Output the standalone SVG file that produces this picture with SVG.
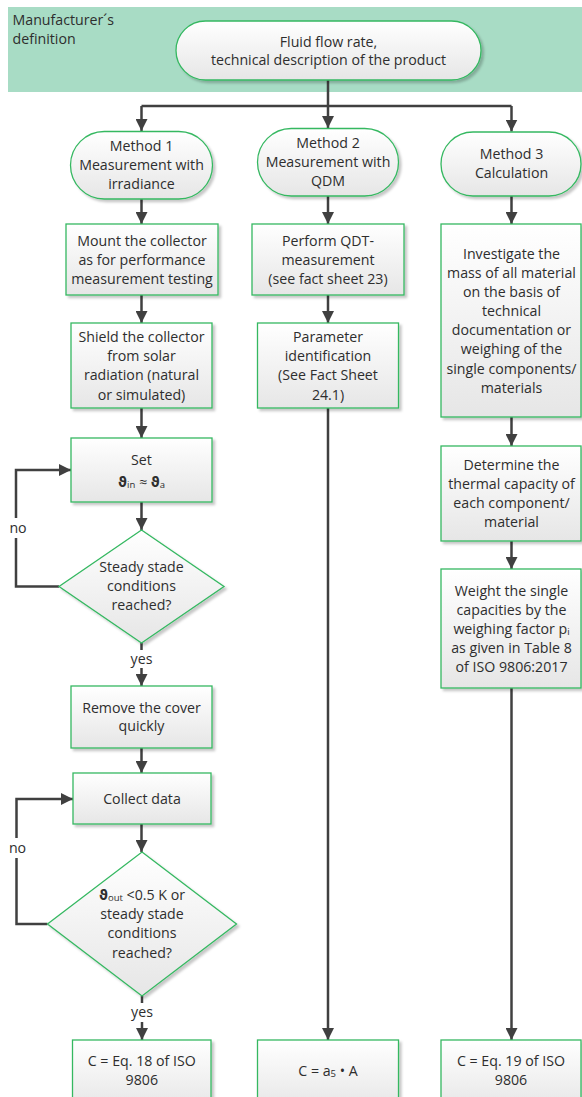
<svg xmlns="http://www.w3.org/2000/svg" width="582" height="1097" viewBox="0 0 582 1097">
<style>
.t{font-family:"Open Sans","Noto Sans",sans-serif;font-size:14.2px;fill:#2e2e2e;text-anchor:middle}
.tl{font-family:"Open Sans","Noto Sans",sans-serif;font-size:14.2px;fill:#2e2e2e}
.node{fill:url(#g);stroke:#35b861;stroke-width:1.3;filter:url(#sh)}
.con{fill:none;stroke:#404040;stroke-width:2.5}
.arr{marker-end:url(#ah)}
.th{font-family:"DejaVu Sans",sans-serif;font-weight:bold;font-size:13.5px}
.sub{font-size:9.5px}
</style>
<defs>
<linearGradient id="g" x1="0" y1="0" x2="0" y2="1">
<stop offset="0" stop-color="#ffffff"/>
<stop offset="1" stop-color="#e6e6e6"/>
</linearGradient>
<filter id="sh" x="-10%" y="-10%" width="130%" height="130%">
<feDropShadow dx="2.5" dy="2.5" stdDeviation="0.8" flood-color="#000" flood-opacity="0.22"/>
</filter>
<marker id="ah" viewBox="0 0 12 12" refX="12" refY="6" markerWidth="12" markerHeight="12" markerUnits="userSpaceOnUse" orient="auto">
<path d="M0,0 L12,6 L0,12 z" fill="#404040"/>
</marker>
</defs>
<rect x="8" y="7" width="574" height="85" fill="#a8dcc5"/>
<text class="tl" x="12.5" y="25">Manufacturer´s</text>
<text class="tl" x="12.5" y="44">definition</text>

<g id="connectors">
<path class="con" d="M328,80 V106"/>
<path class="con" d="M141.5,106 H511.5"/>
<path class="con arr" d="M141.5,106 V131"/>
<path class="con arr" d="M328,106 V128"/>
<path class="con arr" d="M511.5,106 V131.5"/>
<path class="con arr" d="M141.5,199 V224"/>
<path class="con arr" d="M328,196 V224"/>
<path class="con arr" d="M511.5,196 V224"/>
<path class="con arr" d="M141.5,295 V323"/>
<path class="con arr" d="M328,295 V323"/>
<path class="con arr" d="M511.5,417 V446"/>
<path class="con arr" d="M511.5,541 V569"/>
<path class="con arr" d="M511.5,688 V1040"/>
<path class="con arr" d="M328,408 V1040"/>
<path class="con arr" d="M141.5,408 V438"/>
<path class="con arr" d="M141.5,502 V530"/>
<path class="con" d="M59,586.5 H16 V538"/>
<path class="con arr" d="M16,518 V470 H71"/>
<path class="con" d="M141.5,643 V650"/>
<path class="con arr" d="M141.5,668 V686"/>
<path class="con arr" d="M141.5,748 V773"/>
<path class="con arr" d="M141.5,824 V852"/>
<path class="con" d="M47.5,924 H16.5 V858"/>
<path class="con arr" d="M16.5,838 V799 H73"/>
<path class="con" d="M142,996 V1003"/>
<path class="con arr" d="M142,1022 V1040"/>
<text class="t" x="18" y="533">no</text>
<text class="t" x="141.5" y="664">yes</text>
<text class="t" x="17.5" y="853">no</text>
<text class="t" x="142" y="1017">yes</text>
</g>

<g id="start">
<rect class="node" x="176" y="21" width="305" height="59" rx="29.5"/>
<text class="t" x="328.5" y="47">Fluid flow rate,</text>
<text class="t" x="328.5" y="65">technical description of the product</text>
</g>

<g id="method1">
<rect class="node" x="70.5" y="131.5" width="142" height="67.5" rx="33.75"/>
<text class="t" x="141.5" y="151">Method 1</text>
<text class="t" x="141.5" y="169.5">Measurement with</text>
<text class="t" x="141.5" y="188.5">irradiance</text>
</g>
<g id="method2">
<rect class="node" x="257.5" y="128.5" width="141" height="67.5" rx="33.75"/>
<text class="t" x="328" y="148">Method 2</text>
<text class="t" x="328" y="167">Measurement with</text>
<text class="t" x="328" y="186">QDM</text>
</g>
<g id="method3">
<rect class="node" x="441" y="132" width="140" height="64" rx="32"/>
<text class="t" x="511.5" y="158.5">Method 3</text>
<text class="t" x="511.5" y="177.5">Calculation</text>
</g>

<g id="mount">
<rect class="node" x="66" y="224" width="152" height="71"/>
<text class="t" x="142" y="246">Mount the collector</text>
<text class="t" x="142" y="265">as for performance</text>
<text class="t" x="142" y="284">measurement testing</text>
</g>
<g id="qdt">
<rect class="node" x="252" y="224" width="152" height="71"/>
<text class="t" x="328" y="246">Perform QDT-</text>
<text class="t" x="328" y="265">measurement</text>
<text class="t" x="328" y="284">(see fact sheet 23)</text>
</g>
<g id="investigate">
<rect class="node" x="441" y="224" width="140" height="193"/>
<text class="t" x="511.5" y="259">Investigate the</text>
<text class="t" x="511.5" y="278.3">mass of all material</text>
<text class="t" x="511.5" y="297">on the basis of</text>
<text class="t" x="511.5" y="316">technical</text>
<text class="t" x="511.5" y="335">documentation or</text>
<text class="t" x="511.5" y="354.3">weighing of the</text>
<text class="t" x="511.5" y="374">single components/</text>
<text class="t" x="511.5" y="393.3">materials</text>
</g>

<g id="shield">
<rect class="node" x="71" y="323" width="141" height="85"/>
<text class="t" x="141.5" y="342">Shield the collector</text>
<text class="t" x="141.5" y="361">from solar</text>
<text class="t" x="141.5" y="380">radiation (natural</text>
<text class="t" x="141.5" y="399.5">or simulated)</text>
</g>
<g id="param">
<rect class="node" x="257.5" y="323" width="141" height="85"/>
<text class="t" x="328" y="342">Parameter</text>
<text class="t" x="328" y="361">identification</text>
<text class="t" x="328" y="380">(See Fact Sheet</text>
<text class="t" x="328" y="399.5">24.1)</text>
</g>
<g id="determine">
<rect class="node" x="441" y="446" width="140" height="95"/>
<text class="t" x="511.5" y="470">Determine the</text>
<text class="t" x="511.5" y="489.3">thermal capacity of</text>
<text class="t" x="511.5" y="508.3">each component/</text>
<text class="t" x="511.5" y="527">material</text>
</g>
<g id="weight">
<rect class="node" x="441" y="569" width="140" height="119"/>
<text class="t" x="511.5" y="596">Weight the single</text>
<text class="t" x="511.5" y="615">capacities by the</text>
<text class="t" x="511.5" y="634.3">weighing factor p<tspan class="sub" dy="1">i</tspan></text>
<text class="t" x="511.5" y="653.3">as given in Table 8</text>
<text class="t" x="511.5" y="672">of ISO 9806:2017</text>
</g>

<g id="set">
<rect class="node" x="71" y="438" width="141" height="64"/>
<text class="t" x="141.5" y="465">Set</text>
<text class="t" x="141.5" y="486.5"><tspan class="th">ϑ</tspan><tspan class="sub" dy="1">in</tspan><tspan dy="-1"> ≈ </tspan><tspan class="th">ϑ</tspan><tspan class="sub" dy="1">a</tspan></text>
</g>
<g id="steady1">
<polygon class="node" points="141.5,530 224,586.5 141.5,643 59,586.5"/>
<text class="t" x="141.5" y="572">Steady stade</text>
<text class="t" x="141.5" y="591">conditions</text>
<text class="t" x="141.5" y="610">reached?</text>
</g>
<g id="remove">
<rect class="node" x="71" y="686" width="141" height="62"/>
<text class="t" x="141.5" y="712.5">Remove the cover</text>
<text class="t" x="141.5" y="731">quickly</text>
</g>
<g id="collect">
<rect class="node" x="73" y="773" width="138" height="51"/>
<text class="t" x="142" y="804">Collect data</text>
</g>
<g id="steady2">
<polygon class="node" points="142,852 236.5,924 142,996 47.5,924"/>
<text class="t" x="142" y="899.5"><tspan class="th">ϑ</tspan><tspan class="sub" dy="1">out</tspan><tspan dy="-1"> &lt;0.5 K or</tspan></text>
<text class="t" x="142" y="919">steady stade</text>
<text class="t" x="142" y="938.3">conditions</text>
<text class="t" x="142" y="957.5">reached?</text>
</g>

<g id="result1">
<rect class="node" x="72.5" y="1040" width="138.5" height="70"/>
<text class="t" x="141.8" y="1066">C = Eq. 18 of ISO</text>
<text class="t" x="141.8" y="1085">9806</text>
</g>
<g id="result2">
<rect class="node" x="257.5" y="1040" width="141" height="70"/>
<text class="t" x="328" y="1075.5">C = a<tspan class="sub" dy="1">5</tspan><tspan dy="-1"> • A</tspan></text>
</g>
<g id="result3">
<rect class="node" x="441" y="1040" width="140" height="70"/>
<text class="t" x="511" y="1066">C = Eq. 19 of ISO</text>
<text class="t" x="511" y="1085">9806</text>
</g>
</svg>
